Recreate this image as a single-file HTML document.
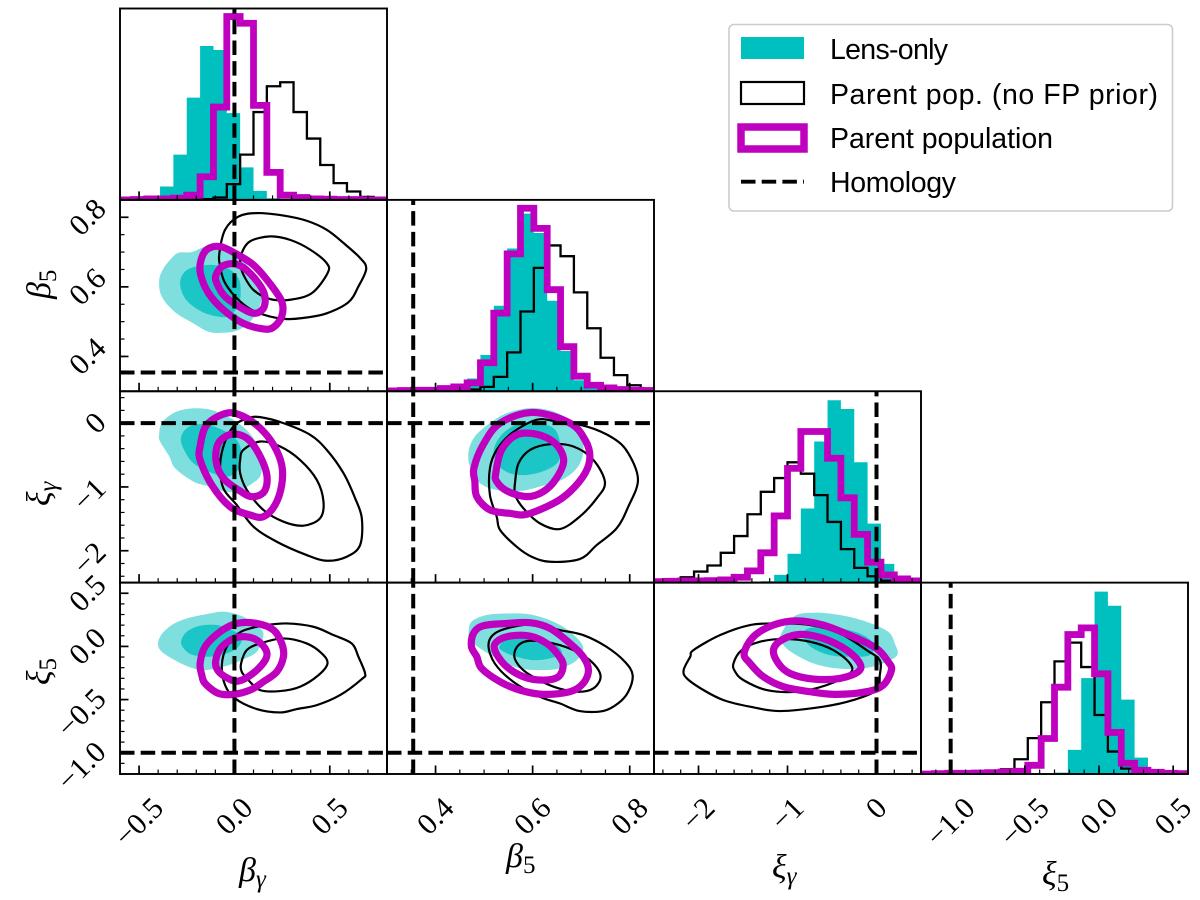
<!DOCTYPE html>
<html lang="en">
<head>
<meta charset="utf-8">
<title>Corner plot</title>
<style>
html,body{margin:0;padding:0;background:#fff;width:1200px;height:900px;overflow:hidden}
svg{display:block}
.tick{font-family:"Liberation Serif",serif;font-size:30px;fill:#000}
.axis{font-family:"Liberation Serif",serif;font-size:34px;fill:#000}
.leg{font-family:"Liberation Sans",sans-serif;font-size:28.5px;fill:#000}
</style>
</head>
<body>
<svg id="chart" xmlns="http://www.w3.org/2000/svg" width="1200" height="900" viewBox="0 0 1200 900">
<defs id="clips"></defs>
<g id="panels"></g>
<g id="labels"></g>
<text class="axis" x="239" y="881" font-style="italic">β<tspan font-size="25" dy="6">γ</tspan></text>
<text class="axis" x="506" y="867" font-style="italic">β<tspan font-size="25" dy="6" font-style="normal">5</tspan></text>
<text class="axis" x="772" y="878" font-style="italic">ξ<tspan font-size="25" dy="6">γ</tspan></text>
<text class="axis" x="1042" y="885" font-style="italic">ξ<tspan font-size="25" dy="6" font-style="normal">5</tspan></text>
<text class="axis" transform="translate(50,299) rotate(-90)" font-style="italic">β<tspan font-size="25" dy="6" font-style="normal">5</tspan></text>
<text class="axis" transform="translate(50,506) rotate(-90)" font-style="italic">ξ<tspan font-size="25" dy="6">γ</tspan></text>
<text class="axis" transform="translate(50,685) rotate(-90)" font-style="italic">ξ<tspan font-size="25" dy="6" font-style="normal">5</tspan></text>
<g>
<rect x="729" y="24.5" width="443.5" height="186.5" rx="5" ry="5" fill="#fff" stroke="#ccc" stroke-width="1.6"/>
<rect x="741" y="37" width="63" height="22" fill="#00bfbf"/>
<rect x="741" y="82" width="63" height="22" fill="none" stroke="#000" stroke-width="2.2"/>
<rect x="741" y="127" width="63" height="22" fill="none" stroke="#bf00bf" stroke-width="7.5"/>
<line x1="741" y1="181.7" x2="804" y2="181.7" stroke="#000" stroke-width="3.9" stroke-dasharray="14.5 6.2"/>
<text class="leg" x="830" y="59" textLength="118" lengthAdjust="spacing">Lens-only</text>
<text class="leg" x="830" y="104" textLength="328" lengthAdjust="spacing">Parent pop. (no FP prior)</text>
<text class="leg" x="830" y="148" textLength="223" lengthAdjust="spacing">Parent population</text>
<text class="leg" x="830" y="192" textLength="126" lengthAdjust="spacing">Homology</text>
</g>
</svg>
<script>
// ---- parameters ----
const paramNames = ["beta-gamma","beta-5","xi-gamma","xi-5"];
const paramDomains = [[-0.6,0.8],[0.3,0.85],[-2.5,0.5],[-1.2,0.6]];
const homology = [0,0.354,0,-1.0];
const majorTicks = [[-0.5,0,0.5],[0.4,0.6,0.8],[-2,-1,0],[-1,-0.5,0,0.5]];
const minorSteps = [0.1,0.05,0.2,0.1];
const xTickLabels = [["−0.5","0.0","0.5"],["0.4","0.6","0.8"],["−2","−1","0"],["−1.0","−0.5","0.0","0.5"]];
const yTickLabels = [[],["0.4","0.6","0.8"],["−2","−1","0"],["−1.0","−0.5","0.0","0.5"]];

// ---- 1D histograms (relative counts, 20 bins across each parameter range) ----
const histBetaGammaLens = [0,0,3,40,135,305,459,447,259,97,27,5,0,0,0,0,0,0,0,0];
const histBetaGammaFree = [0,0,0,0,0,0,2,7,47,135,262,339,351,262,183,104,50,25,9,3];
const histBetaGammaParent = [0,1,3,3,5,14,69,277,547,527,282,82,14,7,3,2,1,1,0,0];
const histBeta5Lens = [0,0,0,0,2,5,38,108,255,426,530,472,270,120,33,8,0,0,0,0];
const histBeta5Free = [0,0,0,0,0,0,5,13,43,116,238,368,435,403,295,188,100,48,18,8];
const histBeta5Parent = [1,2,3,3,8,13,25,85,233,410,546,486,303,133,45,18,10,5,3,2];
const histXiGammaLens = [0,0,0,0,0,0,0,0,4,23,86,221,421,544,518,359,176,56,16,5];
const histXiGammaFree = [0,6,16,33,51,89,139,204,271,312,359,325,261,181,100,44,19,6,2,0];
const histXiGammaParent = [3,4,5,5,6,8,16,35,89,199,341,451,451,371,253,144,61,23,11,5];
const histXi5Lens = [0,0,0,0,0,0,0,0,0,0,4,72,286,544,502,222,49,12,6,0];
const histXi5Free = [0,0,0,0,0,1,14,44,107,214,336,392,319,176,67,16,4,0,0,0];
const histXi5Parent = [0,1,2,2,3,4,6,8,26,106,259,416,436,299,124,32,11,5,2,1];
const histMax = 571;

// ---- 2D contours, parameter values [x,y] ----
// beta_gamma vs beta_5
const bgb5LensOuter = [[-.395,.617],[-.376,.649],[-.337,.678],[-.294,.698],[-.224,.700],[-.145,.716],[-.058,.707],[.021,.687],[.091,.644],[.138,.591],[.135,.548],[.091,.505],[.021,.476],[-.058,.468],[-.136,.471],[-.215,.495],[-.311,.527],[-.381,.572]];
const bgb5LensInner = [[-.285,.611],[-.259,.644],[-.198,.659],[-.110,.663],[-.031,.652],[.021,.625],[.033,.587],[.021,.548],[-.031,.515],[-.110,.517],[-.189,.534],[-.259,.567]];
const bgb5FreeOuter = [[-.079,.697],[-.049,.764],[.021,.802],[.117,.812],[.257,.805],[.379,.790],[.484,.764],[.572,.726],[.659,.683],[.691,.652],[.650,.601],[.598,.556],[.484,.524],[.379,.512],[.257,.508],[.117,.527],[.030,.558],[-.049,.611],[-.075,.659]];
const bgb5FreeInner = [[.038,.697],[.082,.731],[.187,.745],[.292,.735],[.397,.707],[.484,.668],[.488,.639],[.406,.582],[.292,.563],[.187,.565],[.100,.591],[.047,.635],[.030,.668]];
const bgb5ParentOuter = [[-.177,.673],[-.145,.707],[-.075,.716],[.012,.694],[.100,.663],[.178,.615],[.248,.558],[.248,.515],[.205,.484],[.152,.479],[.047,.495],[-.058,.534],[-.136,.582],[-.177,.635]];
const bgb5ParentInner = [[-.096,.635],[-.058,.661],[.012,.665],[.082,.639],[.152,.587],[.156,.543],[.108,.524],[.038,.539],[-.049,.572],[-.093,.611]];
// beta_gamma vs xi_gamma
const bgxgLensOuter = [[-.395,-.183],[-.381,0],[-.320,.157],[-.241,.225],[-.154,.225],[-.075,.157],[.021,0],[.100,-.236],[.135,-.524],[.138,-.812],[.082,-.969],[.021,-1.063],[-.049,-1.073],[-.128,-.995],[-.215,-.916],[-.311,-.707],[-.341,-.524],[-.390,-.288]];
const bgxgLensInner = [[-.281,-.236],[-.250,-.079],[-.180,-.016],[-.093,-.068],[-.005,-.209],[.033,-.393],[.033,-.628],[.003,-.785],[-.049,-.838],[-.128,-.770],[-.215,-.628],[-.264,-.419]];
const bgxgFreeOuter = [[.003,-.026],[.073,.079],[.135,.094],[.257,0],[.397,-.183],[.484,-.419],[.572,-.785],[.633,-1.178],[.668,-1.492],[.659,-1.911],[.589,-2.094],[.484,-2.157],[.379,-2.068],[.222,-1.859],[.100,-1.623],[.012,-1.283],[-.058,-1.021],[-.075,-.654],[-.049,-.288]];
const bgxgFreeInner = [[.030,-.576],[.047,-.419],[.135,-.288],[.240,-.366],[.344,-.576],[.432,-.890],[.467,-1.230],[.449,-1.492],[.362,-1.607],[.257,-1.545],[.152,-1.361],[.065,-1.047],[.030,-.785]];
const bgxgParentOuter = [[-.180,-.366],[-.145,-.026],[-.040,.157],[.047,.105],[.135,-.079],[.205,-.340],[.248,-.654],[.248,-.969],[.213,-1.283],[.152,-1.466],[.082,-1.440],[-.023,-1.309],[-.119,-.969],[-.180,-.576]];
const bgxgParentInner = [[-.096,-.602],[-.084,-.314],[-.014,-.173],[.065,-.236],[.126,-.471],[.170,-.812],[.156,-1.073],[.091,-1.152],[.021,-1.047],[-.058,-.864]];
// beta_gamma vs xi_5
const bgx5LensOuter = [[-.395,-.019],[-.390,.091],[-.329,.201],[-.250,.263],[-.145,.304],[-.049,.326],[.047,.279],[.126,.185],[.152,.107],[.117,-.050],[.038,-.129],[-.058,-.191],[-.163,-.223],[-.241,-.191],[-.329,-.113]];
const bgx5LensInner = [[-.280,.044],[-.250,.138],[-.180,.194],[-.093,.201],[-.014,.154],[.038,.091],[.021,-.003],[-.040,-.066],[-.128,-.097],[-.215,-.082],[-.259,-.034]];
const bgx5FreeOuter = [[.082,.169],[.170,.201],[.274,.216],[.414,.185],[.519,.107],[.615,.028],[.650,-.097],[.685,-.254],[.668,-.307],[.554,-.458],[.432,-.552],[.327,-.589],[.240,-.621],[.117,-.589],[.003,-.489],[-.049,-.364],[-.066,-.176],[-.040,-.003],[.021,.122]];
const bgx5FreeInner = [[.035,-.160],[.065,-.034],[.135,.028],[.257,.075],[.379,.028],[.458,-.066],[.488,-.160],[.441,-.270],[.344,-.379],[.240,-.420],[.135,-.411],[.073,-.317],[.038,-.238]];
const bgx5ParentOuter = [[-.180,-.160],[-.154,-.003],[-.075,.138],[.012,.216],[.117,.216],[.205,.154],[.248,.028],[.257,-.097],[.222,-.238],[.152,-.332],[.082,-.411],[-.005,-.451],[-.084,-.442],[-.154,-.348],[-.171,-.270]];
const bgx5ParentInner = [[-.096,-.113],[-.066,-.003],[.012,.085],[.100,.075],[.161,-.019],[.166,-.113],[.108,-.238],[.021,-.326],[-.049,-.285],[-.093,-.207]];
// beta_5 vs xi_gamma
const b5xgLensOuter = [[.468,-.445],[.481,-.209],[.512,0],[.547,.157],[.595,.236],[.643,.183],[.680,.026],[.701,-.183],[.704,-.471],[.691,-.707],[.660,-.890],[.615,-.995],[.574,-1.063],[.526,-1.047],[.492,-.942],[.471,-.681]];
const b5xgLensInner = [[.520,-.419],[.536,-.183],[.567,-.026],[.608,0],[.643,-.079],[.656,-.288],[.655,-.576],[.629,-.733],[.588,-.812],[.553,-.785],[.529,-.654]];
const b5xgFreeOuter = [[.512,-.707],[.526,-.419],[.557,-.157],[.608,.052],[.649,.026],[.711,-.052],[.766,-.236],[.797,-.471],[.817,-.890],[.797,-1.309],[.773,-1.649],[.732,-1.911],[.697,-2.131],[.636,-2.173],[.598,-2.094],[.567,-1.937],[.533,-1.675],[.526,-1.466],[.512,-1.126]];
const b5xgFreeInner = [[.564,-.916],[.571,-.628],[.595,-.419],[.636,-.330],[.684,-.366],[.725,-.576],[.749,-.927],[.732,-1.178],[.697,-1.466],[.656,-1.660],[.615,-1.571],[.581,-1.335],[.564,-1.126]];
const b5xgParentOuter = [[.479,-.707],[.498,-.340],[.533,0],[.601,.168],[.677,0],[.708,-.262],[.718,-.524],[.708,-.785],[.677,-1.073],[.643,-1.257],[.588,-1.429],[.553,-1.414],[.512,-1.361],[.485,-1.152],[.481,-.916]];
const b5xgParentInner = [[.524,-.785],[.536,-.419],[.567,-.183],[.608,-.173],[.646,-.314],[.664,-.576],[.649,-.864],[.622,-1.073],[.588,-1.152],[.547,-1.063],[.526,-.916]];
// beta_5 vs xi_5
const b5x5LensOuter = [[.468,.122],[.474,.232],[.505,.295],[.547,.310],[.595,.301],[.643,.232],[.677,.138],[.704,-.003],[.691,-.129],[.656,-.207],[.615,-.223],[.574,-.207],[.533,-.129],[.492,-.019],[.471,.060]];
const b5x5LensInner = [[.531,-.003],[.550,.075],[.588,.107],[.622,.075],[.649,.013],[.660,-.066],[.636,-.113],[.601,-.129],[.567,-.097],[.543,-.056]];
const b5x5FreeOuter = [[.509,.013],[.522,.122],[.560,.185],[.608,.207],[.656,.154],[.704,.107],[.752,-.003],[.790,-.144],[.806,-.270],[.797,-.426],[.776,-.536],[.745,-.608],[.697,-.608],[.656,-.536],[.615,-.473],[.560,-.332],[.522,-.160]];
const b5x5FreeInner = [[.562,-.082],[.571,.013],[.595,.053],[.643,.028],[.691,-.050],[.725,-.160],[.740,-.285],[.725,-.395],[.691,-.426],[.643,-.379],[.595,-.270],[.571,-.176]];
const b5x5ParentOuter = [[.474,-.003],[.478,.122],[.498,.194],[.547,.216],[.595,.223],[.636,.169],[.677,.028],[.704,-.097],[.715,-.223],[.704,-.348],[.677,-.426],[.622,-.451],[.574,-.411],[.533,-.332],[.495,-.207],[.485,-.097]];
const b5x5ParentInner = [[.522,-.034],[.526,.044],[.553,.097],[.595,.097],[.629,.028],[.653,-.082],[.663,-.176],[.653,-.285],[.622,-.317],[.581,-.285],[.543,-.176]];
// xi_gamma vs xi_5
const xgx5LensOuter = [[-1.084,.091],[-.934,.279],[-.710,.317],[-.411,.295],[-.112,.232],[.131,.138],[.206,.028],[.232,-.082],[.075,-.160],[-.149,-.207],[-.448,-.207],[-.710,-.160],[-.934,-.066],[-1.046,.013]];
const xgx5LensInner = [[-.803,.154],[-.635,.185],[-.411,.169],[-.187,.122],[-.037,.028],[-.075,-.082],[-.299,-.097],[-.523,-.082],[-.710,-.019],[-.803,.060]];
const xgx5FreeOuter = [[-2.167,-.223],[-2.093,-.097],[-2.055,-.034],[-1.756,.107],[-1.420,.201],[-1.121,.216],[-.747,.201],[-.411,.122],[-.112,-.034],[.037,-.129],[.037,-.270],[0,-.411],[-.262,-.505],[-.598,-.567],[-1.084,-.608],[-1.420,-.567],[-1.719,-.505],[-1.943,-.411],[-2.130,-.301]];
const xgx5FreeInner = [[-1.607,-.160],[-1.513,-.034],[-1.308,.044],[-1.046,.069],[-.747,.044],[-.486,-.034],[-.299,-.160],[-.299,-.254],[-.561,-.364],[-.897,-.426],[-1.233,-.411],[-1.495,-.317],[-1.588,-.238]];
const xgx5ParentOuter = [[-1.487,-.066],[-1.383,.091],[-1.158,.201],[-.897,.241],[-.598,.201],[-.262,.091],[0,-.019],[.131,-.144],[.168,-.223],[.075,-.364],[-.112,-.426],[-.448,-.451],[-.747,-.426],[-1.046,-.379],[-1.271,-.285],[-1.420,-.160]];
const xgx5ParentInner = [[-1.158,-.034],[-1.065,.060],[-.859,.113],[-.598,.075],[-.336,-.034],[-.187,-.160],[-.206,-.238],[-.411,-.301],[-.710,-.307],[-.972,-.254],[-1.102,-.160]];

const histSets = [
 [histBetaGammaLens,histBetaGammaFree,histBetaGammaParent],
 [histBeta5Lens,histBeta5Free,histBeta5Parent],
 [histXiGammaLens,histXiGammaFree,histXiGammaParent],
 [histXi5Lens,histXi5Free,histXi5Parent]
];
const contourSets = [
 {row:1,col:0,c:[bgb5LensOuter,bgb5LensInner,bgb5FreeOuter,bgb5FreeInner,bgb5ParentOuter,bgb5ParentInner]},
 {row:2,col:0,c:[bgxgLensOuter,bgxgLensInner,bgxgFreeOuter,bgxgFreeInner,bgxgParentOuter,bgxgParentInner]},
 {row:3,col:0,c:[bgx5LensOuter,bgx5LensInner,bgx5FreeOuter,bgx5FreeInner,bgx5ParentOuter,bgx5ParentInner]},
 {row:2,col:1,c:[b5xgLensOuter,b5xgLensInner,b5xgFreeOuter,b5xgFreeInner,b5xgParentOuter,b5xgParentInner]},
 {row:3,col:1,c:[b5x5LensOuter,b5x5LensInner,b5x5FreeOuter,b5x5FreeInner,b5x5ParentOuter,b5x5ParentInner]},
 {row:3,col:2,c:[xgx5LensOuter,xgx5LensInner,xgx5FreeOuter,xgx5FreeInner,xgx5ParentOuter,xgx5ParentInner]}
];

// ---- layout and axis functions ----
const NS = "http://www.w3.org/2000/svg";
const LEFT = 120, TOP = 8.5, W = 267, H = 191.375;
const TEAL = "#00bfbf", MAG = "#bf00bf";
const colLeft = c => LEFT + c * W;
const rowTop = r => TOP + r * H;
const xScale = (c, v) => colLeft(c) + (v - paramDomains[c][0]) / (paramDomains[c][1] - paramDomains[c][0]) * W;
const yScale = (r, v) => rowTop(r) + H - (v - paramDomains[r][0]) / (paramDomains[r][1] - paramDomains[r][0]) * H;
const histY = (r, v) => rowTop(r) + H - v / histMax * H;

function mk(tag, parent) {
  const el = document.createElementNS(NS, tag);
  parent.appendChild(el);
  return el;
}
function closedSmooth(pts) {
  const n = pts.length;
  let d = "M" + pts[0][0].toFixed(2) + " " + pts[0][1].toFixed(2);
  for (let i = 0; i < n; i++) {
    const p0 = pts[(i - 1 + n) % n], p1 = pts[i], p2 = pts[(i + 1) % n], p3 = pts[(i + 2) % n];
    const c1x = p1[0] + (p2[0] - p0[0]) / 6, c1y = p1[1] + (p2[1] - p0[1]) / 6;
    const c2x = p2[0] - (p3[0] - p1[0]) / 6, c2y = p2[1] - (p3[1] - p1[1]) / 6;
    d += "C" + c1x.toFixed(2) + " " + c1y.toFixed(2) + " " + c2x.toFixed(2) + " " + c2y.toFixed(2) + " " + p2[0].toFixed(2) + " " + p2[1].toFixed(2);
  }
  return d + "Z";
}
function contourPath(points, r, c) {
  return closedSmooth(points.map(p => [xScale(c, p[0]), yScale(r, p[1])]));
}
function stepPath(values, r, c) {
  const binW = W / values.length;
  let d = "M" + colLeft(c) + " " + histY(r, 0);
  values.forEach((v, i) => {
    const y = histY(r, v).toFixed(2);
    d += "L" + (colLeft(c) + i * binW).toFixed(2) + " " + y + "L" + (colLeft(c) + (i + 1) * binW).toFixed(2) + " " + y;
  });
  return d + "L" + (colLeft(c) + W) + " " + histY(r, 0);
}
function fillPath(values, r, c) {
  return stepPath(values, r, c) + "Z";
}
function minorValues(i) {
  const out = [], step = minorSteps[i], d = paramDomains[i];
  const first = Math.ceil(d[0] / step - 1e-9);
  for (let k = first; k * step <= d[1] + 1e-9; k++) out.push(k * step);
  return out;
}

const panelsG = document.getElementById("panels");
const defs = document.getElementById("clips");
const labelsG = document.getElementById("labels");

function newPanel(r, c) {
  const g = mk("g", panelsG);
  
  
  const clip = mk("clipPath", defs);
  clip.setAttribute("id", "clip-" + r + "-" + c);
  const cr = mk("rect", clip);
  cr.setAttribute("x", colLeft(c));
  cr.setAttribute("y", rowTop(r));
  cr.setAttribute("width", W);
  cr.setAttribute("height", H);
  const inner = mk("g", g);
  inner.setAttribute("clip-path", "url(#clip-" + r + "-" + c + ")");
  
  
  return { g, inner };
}
function dashedV(parent, r, c) {
  const x = xScale(c, homology[c]);
  const l = mk("line", parent);
  
  
  l.setAttribute("x1", x);
  l.setAttribute("x2", x);
  l.setAttribute("y1", rowTop(r) + H);
  l.setAttribute("y2", rowTop(r));
  l.setAttribute("stroke", "#000");
  l.setAttribute("stroke-width", "4");
  l.setAttribute("stroke-dasharray", "14.5 6.2");
}
function dashedH(parent, r, c) {
  const y = yScale(r, homology[r]);
  const l = mk("line", parent);
  
  
  l.setAttribute("x1", colLeft(c));
  l.setAttribute("x2", colLeft(c) + W);
  l.setAttribute("y1", y);
  l.setAttribute("y2", y);
  l.setAttribute("stroke", "#000");
  l.setAttribute("stroke-width", "4");
  l.setAttribute("stroke-dasharray", "14.5 6.2");
}
function tickLine(parent, x1, y1, x2, y2, major) {
  const t = mk("line", parent);
  
  
  t.setAttribute("x1", x1);
  t.setAttribute("y1", y1);
  t.setAttribute("x2", x2);
  t.setAttribute("y2", y2);
  t.setAttribute("stroke", "#000");
  t.setAttribute("stroke-width", major ? "1.7" : "1.2");
}
function frame(g, r, c, showY) {
  const bottom = rowTop(r) + H, left = colLeft(c);
  minorValues(c).forEach(v => tickLine(g, xScale(c, v), bottom, xScale(c, v), bottom - 4.5, false));
  majorTicks[c].forEach(v => tickLine(g, xScale(c, v), bottom, xScale(c, v), bottom - 8.5, true));
  if (showY) {
    minorValues(r).forEach(v => tickLine(g, left, yScale(r, v), left + 4.5, yScale(r, v), false));
    majorTicks[r].forEach(v => tickLine(g, left, yScale(r, v), left + 8.5, yScale(r, v), true));
  }
  const box = mk("rect", g);
  
  
  box.setAttribute("x", left);
  box.setAttribute("y", rowTop(r));
  box.setAttribute("width", W);
  box.setAttribute("height", H);
  box.setAttribute("fill", "none");
  box.setAttribute("stroke", "#000");
  box.setAttribute("stroke-width", "1.9");
}

// ---- histograms on diagonal ----
histSets.forEach((set, i) => {
  const p = newPanel(i, i);
  const f = mk("path", p.inner);
  
  
  f.setAttribute("d", fillPath(set[0], i, i));
  f.setAttribute("fill", TEAL);
  const b = mk("path", p.inner);
  
  
  b.setAttribute("d", stepPath(set[1], i, i));
  b.setAttribute("fill", "none");
  b.setAttribute("stroke", "#000");
  b.setAttribute("stroke-width", "2.3");
  const m = mk("path", p.inner);
  
  
  m.setAttribute("d", stepPath(set[2], i, i));
  m.setAttribute("fill", "none");
  m.setAttribute("stroke", MAG);
  m.setAttribute("stroke-width", "6.8");
  dashedV(p.inner, i, i);
  frame(p.g, i, i, false);
});

// ---- contours off diagonal ----
contourSets.forEach(s => {
  const r = s.row, c = s.col;
  const p = newPanel(r, c);
  const lo = mk("path", p.inner);
  
  
  lo.setAttribute("d", contourPath(s.c[0], r, c));
  lo.setAttribute("fill", TEAL);
  lo.setAttribute("fill-opacity", "0.5");
  const li = mk("path", p.inner);
  
  
  li.setAttribute("d", contourPath(s.c[1], r, c));
  li.setAttribute("fill", TEAL);
  li.setAttribute("fill-opacity", "0.78");
  const fo = mk("path", p.inner);
  
  
  fo.setAttribute("d", contourPath(s.c[2], r, c));
  fo.setAttribute("fill", "none");
  fo.setAttribute("stroke", "#000");
  fo.setAttribute("stroke-width", "2.2");
  const fi = mk("path", p.inner);
  
  
  fi.setAttribute("d", contourPath(s.c[3], r, c));
  fi.setAttribute("fill", "none");
  fi.setAttribute("stroke", "#000");
  fi.setAttribute("stroke-width", "2.2");
  const mo = mk("path", p.inner);
  
  
  mo.setAttribute("d", contourPath(s.c[4], r, c));
  mo.setAttribute("fill", "none");
  mo.setAttribute("stroke", MAG);
  mo.setAttribute("stroke-width", "7.2");
  const mi = mk("path", p.inner);
  
  
  mi.setAttribute("d", contourPath(s.c[5], r, c));
  mi.setAttribute("fill", "none");
  mi.setAttribute("stroke", MAG);
  mi.setAttribute("stroke-width", "7.2");
  dashedV(p.inner, r, c);
  dashedH(p.inner, r, c);
  frame(p.g, r, c, c === 0);
});

// ---- tick labels ----
const GLYPH_H = 20;
paramNames.forEach((name, c) => {
  xTickLabels[c].forEach((lab, k) => {
    const t = mk("text", labelsG);
    t.setAttribute("class", "tick");
    
    
    t.textContent = lab;
    t.setAttribute("text-anchor", "middle");
    t.setAttribute("dominant-baseline", "central");
    const w = t.getComputedTextLength();
    const tx = xScale(c, majorTicks[c][k]);
    const cy = 796 + (w + GLYPH_H) * 0.3535;
    t.setAttribute("x", tx);
    t.setAttribute("y", cy);
    t.setAttribute("transform", "rotate(-45 " + tx + " " + cy + ")");
  });
});
paramNames.forEach((name, r) => {
  yTickLabels[r].forEach((lab, k) => {
    const t = mk("text", labelsG);
    t.setAttribute("class", "tick");
    
    
    t.textContent = lab;
    t.setAttribute("text-anchor", "middle");
    t.setAttribute("dominant-baseline", "central");
    const w = t.getComputedTextLength();
    const cx = 108 - (w + GLYPH_H) * 0.3535;
    const cy = yScale(r, majorTicks[r][k]) + (lab.charAt(0) === "−" ? w * 0.25 : 0);
    t.setAttribute("x", cx);
    t.setAttribute("y", cy);
    t.setAttribute("transform", "rotate(-45 " + cx + " " + cy + ")");
  });
});
</script>
</body>
</html>
